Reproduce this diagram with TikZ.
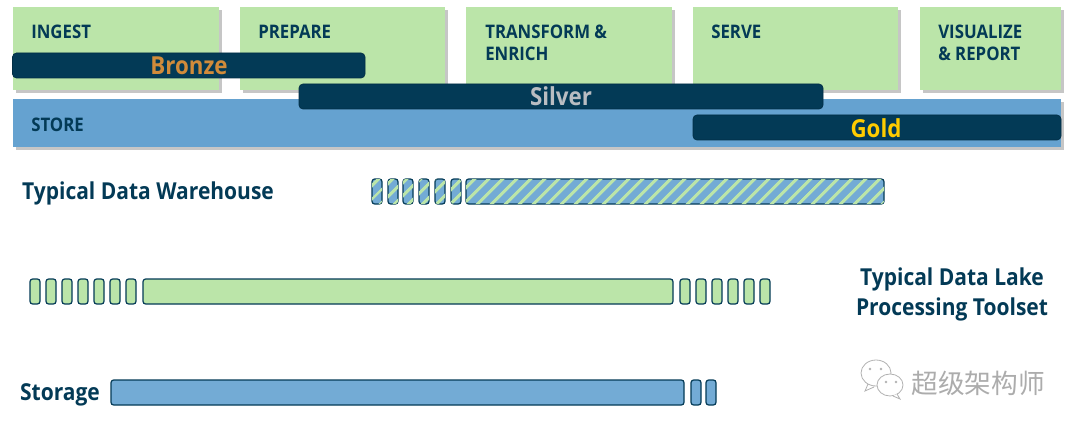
\documentclass[tikz,border=0pt]{standalone}
\usepackage{fontspec}
\setmainfont[BoldFeatures={FakeStretch=0.9}]{Open Sans}
\newfontfamily\cjk{Noto Sans CJK SC}
\usetikzlibrary{shadows,patterns.meta}
\definecolor{stagegreen}{HTML}{BBE5A9}
\definecolor{storeblue}{HTML}{65A2D0}
\definecolor{barblue}{HTML}{73ABD5}
\definecolor{navy}{HTML}{033A56}
\definecolor{bronzetxt}{HTML}{D18B3A}
\definecolor{silvertxt}{HTML}{B9BDC2}
\definecolor{goldtxt}{HTML}{FFCC00}
\tikzset{
  stagebox/.style={fill=stagegreen,drop shadow={shadow xshift=2pt,shadow yshift=-2pt,opacity=0.45}},
  storebox/.style={fill=storeblue,drop shadow={shadow xshift=2pt,shadow yshift=-2pt,opacity=0.45}},
  layerbar/.style={fill=navy,draw=navy!80!black,rounded corners=3pt,line width=0.5pt},
  toolbar/.style={draw=navy,line width=0.9pt,rounded corners=2pt},
  greenbar/.style={toolbar,fill=stagegreen},
  bluebar/.style={toolbar,fill=barblue},
  stripebar/.style={toolbar,fill=barblue,postaction={pattern={Lines[angle=45,distance=7.4pt,line width=2.4pt]},pattern color=stagegreen}},
  stagelabel/.style={anchor=north west,inner sep=0pt,align=left,text=navy,font=\bfseries\fontsize{14}{16.5}\selectfont},
  layerlabel/.style={inner sep=0pt,font=\bfseries\fontsize{18.6}{20}\selectfont},
  toollabel/.style={inner sep=0pt,text=navy,align=center,font=\bfseries\fontsize{17.5}{22.5}\selectfont},
}
\begin{document}
\begin{tikzpicture}[x=0.75pt,y=-0.75pt]
  \useasboundingbox (0,0) rectangle (1080,431);
  % stages along the top
  \foreach \l/\r in {13/219,240/445,466/672,693/898,920/1061}
    \path[stagebox] (\l,7) rectangle (\r,90);
  \path[storebox] (13,99) rectangle (1061,147);
  \node[stagelabel] (ingest) at (31,25) {INGEST};
  \node[stagelabel] (prepare) at (258,25) {PREPARE};
  \node[stagelabel] (transform) at (485,25) {TRANSFORM \&\\ENRICH};
  \node[stagelabel] (serve) at (711,25) {SERVE};
  \node[stagelabel] (visualize) at (938,25) {VISUALIZE\\\& REPORT};
  \node[stagelabel] (store) at (31,118) {STORE};
  % medallion layers
  \draw[layerbar] (12.5,53) rectangle (365,78);
  \draw[layerbar] (299,84) rectangle (823,109);
  \draw[layerbar] (693,115) rectangle (1061,140);
  \node[layerlabel,text=bronzetxt] (bronze) at (189,65.5) {Bronze};
  \node[layerlabel,text=silvertxt] (silver) at (561,96.5) {Silver};
  \node[layerlabel,text=goldtxt] (gold) at (876,128) {Gold};
  % warehouse row
  \node[toollabel] (warehouse) at (148,193.5) {Typical Data Warehouse};
  \foreach \x in {372,388,403,419,435,451}
    \draw[stripebar] (\x,179) rectangle +(10,25);
  \draw[stripebar] (466,179) rectangle (884,204);
  % lake row
  \foreach \x in {30,46,62,78,94,110,126,680,696,712,728,744,760}
    \draw[greenbar] (\x,279) rectangle +(10,25);
  \draw[greenbar] (143,279) rectangle (673,304);
  \node[toollabel] (lake) at (952,294) {Typical Data Lake\\Processing Toolset};
  % storage row
  \node[toollabel] (storage) at (60,395) {Storage};
  \draw[bluebar] (111,380) rectangle (684,405);
  \foreach \x in {691,706}
    \draw[bluebar] (\x,380) rectangle +(10,25);
  % watermark
  \draw[gray!60,fill=white,line width=0.6pt] (868,384) -- (865,391) -- (874,387) (876,373) ellipse (15 and 13);
  \draw[gray!60,fill=white,line width=0.6pt] (890,385) ellipse (13 and 11);
  \draw[gray!60,fill=white,line width=0.6pt] (897,394) -- (900,399) -- (893,396);
  \foreach \x/\y in {870/369,881/369,886/382,896/382}
    \fill[gray!60] (\x,\y) circle (1.3);
  \node[inner sep=0pt,text=gray!65,font=\cjk\fontsize{20}{24}\selectfont] (mark) at (978,383) {超级架构师};
\end{tikzpicture}
\end{document}
